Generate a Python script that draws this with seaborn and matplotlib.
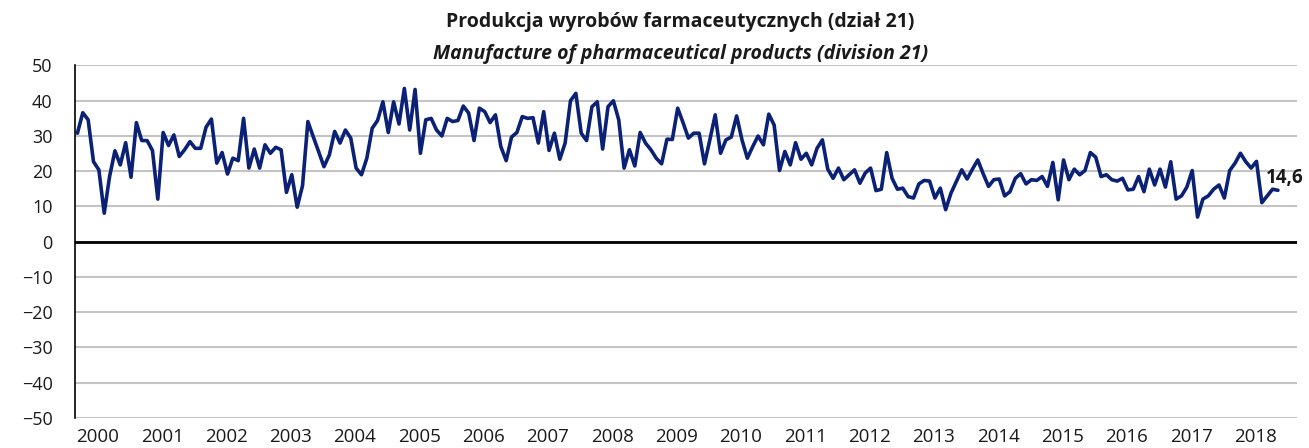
import matplotlib
matplotlib.use('Agg')
import matplotlib.pyplot as plt
import seaborn as sns
import pandas as pd

# dynamika produkcji, r/r w %, dane miesięczne 2000-2018
years = list(range(2000, 2019))
v2000 = [30.8, 36.6, 34.6, 22.7, 20.4, 8.1, 18.5, 25.8, 21.8, 28.1, 18.3, 33.8]
v2001 = [28.7, 28.7, 25.9, 12.1, 31.0, 27.3, 30.3, 24.2, 26.1, 28.4, 26.5, 26.5]
v2002 = [32.5, 34.8, 22.3, 25.3, 19.2, 23.7, 23.0, 35.0, 20.9, 26.3, 20.9, 27.5]
v2003 = [25.1, 26.8, 26.1, 14.0, 19.0, 9.8, 15.9, 34.1, 29.8, 25.6, 21.3, 24.6]
v2004 = [31.3, 28.0, 31.7, 29.4, 20.9, 19.0, 23.7, 32.2, 34.4, 39.7, 31.0, 39.7]
v2005 = [33.4, 43.5, 31.7, 43.2, 25.1, 34.6, 35.0, 31.7, 30.0, 35.0, 34.1, 34.4]
v2006 = [38.5, 36.5, 28.7, 37.9, 36.9, 33.8, 36.0, 27.0, 23.0, 29.7, 31.0, 35.5]
v2007 = [35.0, 35.2, 28.0, 36.9, 25.9, 30.8, 23.4, 28.0, 40.0, 42.1, 30.8, 28.7]
v2008 = [38.3, 39.7, 26.3, 38.3, 40.0, 34.6, 20.9, 26.1, 21.5, 31.0, 28.0, 26.1]
v2009 = [23.7, 22.1, 29.1, 29.0, 37.9, 33.8, 29.4, 30.8, 30.8, 22.1, 28.9, 36.0]
v2010 = [25.1, 28.9, 29.7, 35.7, 28.9, 23.7, 27.0, 30.0, 27.5, 36.2, 33.1, 20.2]
v2011 = [25.6, 21.8, 28.1, 23.4, 25.1, 21.8, 26.5, 28.9, 20.6, 18.0, 20.9, 17.6]
v2012 = [19.0, 20.4, 16.6, 19.5, 20.9, 14.5, 14.9, 25.3, 18.0, 14.9, 15.2, 12.8]
v2013 = [12.4, 16.4, 17.4, 17.2, 12.4, 15.2, 9.1, 13.8, 17.1, 20.4, 17.8, 20.6]
v2014 = [23.2, 19.3, 15.7, 17.6, 17.8, 13.0, 14.2, 18.0, 19.3, 16.4, 17.6, 17.4]
v2015 = [18.5, 15.7, 22.5, 11.9, 23.2, 17.6, 20.6, 19.0, 20.2, 25.3, 24.0, 18.5]
v2016 = [19.0, 17.6, 17.2, 18.0, 14.7, 14.9, 18.5, 14.2, 20.6, 16.1, 20.6, 15.5]
v2017 = [22.7, 12.1, 13.0, 15.5, 20.2, 7.0, 12.1, 13.0, 14.9, 16.1, 12.4, 20.2]
v2018 = [22.3, 25.1, 22.7, 20.9, 22.8, 11.1, 13.0, 14.9, 14.6]

values = (v2000 + v2001 + v2002 + v2003 + v2004 + v2005 + v2006 + v2007 + v2008
          + v2009 + v2010 + v2011 + v2012 + v2013 + v2014 + v2015 + v2016 + v2017 + v2018)
df = pd.DataFrame({'m': range(len(values)), 'v': values})

sns.set_style('white')
plt.rcParams['font.family'] = ['Open Sans', 'DejaVu Sans']

fig = plt.figure(figsize=(13.09, 4.48), dpi=100)
ax = fig.add_axes([0.0571, 0.067, 0.9335, 0.7868])

ax.set_yticks(range(-50, 51, 10))
ax.yaxis.grid(True, color='#c4c4c4', linewidth=1.5)
ax.set_axisbelow(True)
ax.axhline(0, color='black', linewidth=2.0, zorder=2)

sns.lineplot(data=df, x='m', y='v', color='#0b2175', linewidth=2.6, ax=ax, zorder=3)

ax.set_xlim(-0.5, 227.5)
ax.set_ylim(-50, 50)
ax.set_xticks([12 * i - 0.2 for i in range(len(years))])
ax.set_xticklabels([str(y) for y in years], ha='left')
ax.tick_params(axis='x', length=0, pad=7, labelsize=13.5, colors='#1a1a1a')
ax.tick_params(axis='y', length=0, pad=16, labelsize=13, colors='#1a1a1a')
ax.set_xlabel('')
ax.set_ylabel('')

for s in ['top', 'right', 'bottom']:
    ax.spines[s].set_visible(False)
ax.spines['left'].set_color('black')
ax.spines['left'].set_linewidth(1.2)

ax.annotate('14,6', xy=(df['m'].iloc[-1], df['v'].iloc[-1]), xytext=(-9, 5),
            textcoords='offset points', ha='left', va='baseline',
            fontsize=13.5, fontweight='bold', color='#1a1a1a')

fig.text(0.52, 0.952, 'Produkcja wyrobów farmaceutycznych (dział 21)',
         ha='center', va='center', fontsize=14, fontweight='bold', color='#1a1a1a')
fig.text(0.52, 0.880, 'Manufacture of pharmaceutical products (division 21)',
         ha='center', va='center', fontsize=14, fontweight='bold', style='italic', color='#1a1a1a')

fig.savefig('out.png', dpi=100)
